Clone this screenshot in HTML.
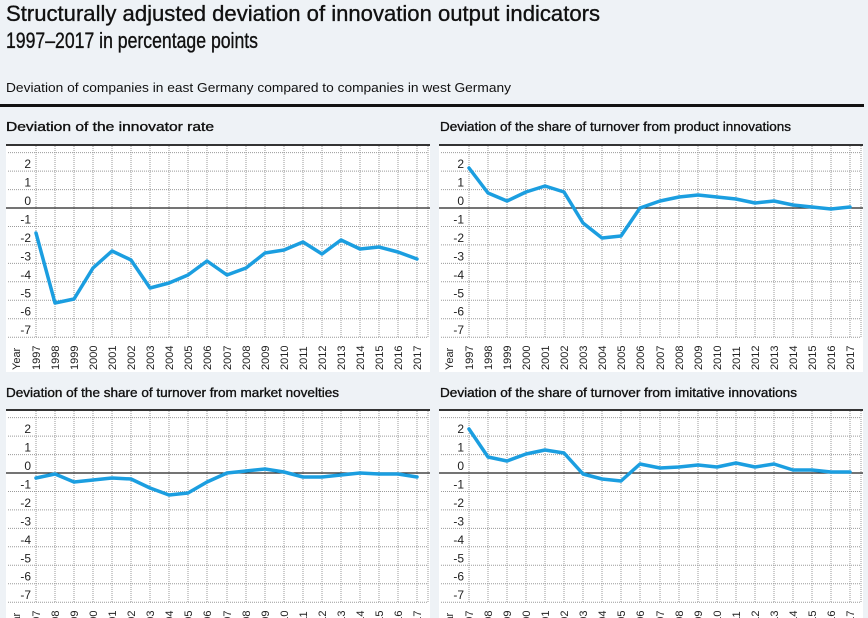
<!DOCTYPE html>
<html><head><meta charset="utf-8"><style>
html,body{margin:0;padding:0;background:#eef2f6;overflow:hidden;width:868px;height:618px;}
svg{display:block;font-family:"Liberation Sans Narrow","Liberation Sans",sans-serif;}
.t{fill:#111;}
.pt{fill:#111;stroke:#111;stroke-width:0.35;}
.yl{font-size:12px;fill:#222;text-anchor:end;}
.yr{font-size:11px;fill:#222;}
.g{stroke:#9a9a9a;stroke-width:1;stroke-dasharray:1 1;fill:none;}
.d{fill:none;stroke:#1b9ee0;stroke-width:3.5;stroke-linejoin:round;stroke-linecap:round;}
</style></head><body>
<svg width="868" height="618" viewBox="0 0 868 618" xmlns="http://www.w3.org/2000/svg">
<defs>
<g id="grid">
<rect x="6" y="145" width="424" height="227" fill="#fff"/>
<path class="g" d="M8 152.6H428M8 171.1H428M8 189.6H428M8 226.5H428M8 244.9H428M8 263.4H428M8 281.8H428M8 300.3H428M8 318.7H428M8 337.2H428"/>
<path class="g" d="M36 146V338M55 146V338M74 146V338M93 146V338M112 146V338M131 146V338M150 146V338M169 146V338M188 146V338M207 146V338M227 146V338M246 146V338M265 146V338M284 146V338M303 146V338M322 146V338M341 146V338M360 146V338M379 146V338M398 146V338M417 146V338M428 146V338"/>
<line x1="6" y1="145" x2="430" y2="145" stroke="#333" stroke-width="2"/>
<line x1="6" y1="208" x2="430" y2="208" stroke="#222" stroke-width="1.3"/>
</g>
</defs>

<text class="pt" x="6" y="21" font-size="22" textLength="594" lengthAdjust="spacingAndGlyphs">Structurally adjusted deviation of innovation output indicators</text>
<text class="pt" x="6" y="48" font-size="22" textLength="252" lengthAdjust="spacingAndGlyphs">1997–2017 in percentage points</text>
<text class="t" x="6" y="92" font-size="13" textLength="505" lengthAdjust="spacingAndGlyphs">Deviation of companies in east Germany compared to companies in west Germany</text>
<rect x="0" y="104" width="864" height="3" fill="#111"/>

<text class="pt" x="6" y="131" font-size="13" textLength="208" lengthAdjust="spacingAndGlyphs">Deviation of the innovator rate</text>
<text class="pt" x="440" y="131" font-size="13" textLength="351" lengthAdjust="spacingAndGlyphs">Deviation of the share of turnover from product innovations</text>
<text class="pt" x="6" y="397" font-size="13" textLength="333" lengthAdjust="spacingAndGlyphs">Deviation of the share of turnover from market novelties</text>
<text class="pt" x="440" y="397" font-size="13" textLength="357" lengthAdjust="spacingAndGlyphs">Deviation of the share of turnover from imitative innovations</text>

<use href="#grid"/>
<use href="#grid" transform="translate(433,0)"/>
<use href="#grid" transform="translate(0,265)"/>
<use href="#grid" transform="translate(433,265)"/>

<!-- Panel TL -->
<g>
<text class="yl" x="31" y="168">2</text><text class="yl" x="31" y="186.6">1</text><text class="yl" x="31" y="205">0</text>
<text class="yl" x="31" y="223.5">-1</text><text class="yl" x="31" y="242">-2</text><text class="yl" x="31" y="260.4">-3</text>
<text class="yl" x="31" y="278.8">-4</text><text class="yl" x="31" y="297.3">-5</text><text class="yl" x="31" y="315.7">-6</text><text class="yl" x="31" y="334.2">-7</text>
<text class="yr" transform="translate(20,370) rotate(-90)">Year</text>
<text class="yr" transform="translate(40,370) rotate(-90)">1997</text><text class="yr" transform="translate(59,370) rotate(-90)">1998</text><text class="yr" transform="translate(78,370) rotate(-90)">1999</text><text class="yr" transform="translate(97,370) rotate(-90)">2000</text><text class="yr" transform="translate(116,370) rotate(-90)">2001</text><text class="yr" transform="translate(135,370) rotate(-90)">2002</text><text class="yr" transform="translate(154,370) rotate(-90)">2003</text><text class="yr" transform="translate(173,370) rotate(-90)">2004</text><text class="yr" transform="translate(192,370) rotate(-90)">2005</text><text class="yr" transform="translate(211,370) rotate(-90)">2006</text><text class="yr" transform="translate(231,370) rotate(-90)">2007</text><text class="yr" transform="translate(250,370) rotate(-90)">2008</text><text class="yr" transform="translate(269,370) rotate(-90)">2009</text><text class="yr" transform="translate(288,370) rotate(-90)">2010</text><text class="yr" transform="translate(307,370) rotate(-90)">2011</text><text class="yr" transform="translate(326,370) rotate(-90)">2012</text><text class="yr" transform="translate(345,370) rotate(-90)">2013</text><text class="yr" transform="translate(364,370) rotate(-90)">2014</text><text class="yr" transform="translate(383,370) rotate(-90)">2015</text><text class="yr" transform="translate(402,370) rotate(-90)">2016</text><text class="yr" transform="translate(421,370) rotate(-90)">2017</text>
<polyline class="d" points="36,233 55,303 74,299 93,268 112,251 131,260 150,288 169,283 188,275 207,261 227,275 246,268 265,253 284,250 303,242 322,254 341,240 360,249 379,247 398,252 417,259"/>
</g>

<!-- Panel TR -->
<g transform="translate(433,0)">
<text class="yl" x="31" y="168">2</text><text class="yl" x="31" y="186.6">1</text><text class="yl" x="31" y="205">0</text>
<text class="yl" x="31" y="223.5">-1</text><text class="yl" x="31" y="242">-2</text><text class="yl" x="31" y="260.4">-3</text>
<text class="yl" x="31" y="278.8">-4</text><text class="yl" x="31" y="297.3">-5</text><text class="yl" x="31" y="315.7">-6</text><text class="yl" x="31" y="334.2">-7</text>
<text class="yr" transform="translate(20,370) rotate(-90)">Year</text>
<text class="yr" transform="translate(40,370) rotate(-90)">1997</text><text class="yr" transform="translate(59,370) rotate(-90)">1998</text><text class="yr" transform="translate(78,370) rotate(-90)">1999</text><text class="yr" transform="translate(97,370) rotate(-90)">2000</text><text class="yr" transform="translate(116,370) rotate(-90)">2001</text><text class="yr" transform="translate(135,370) rotate(-90)">2002</text><text class="yr" transform="translate(154,370) rotate(-90)">2003</text><text class="yr" transform="translate(173,370) rotate(-90)">2004</text><text class="yr" transform="translate(192,370) rotate(-90)">2005</text><text class="yr" transform="translate(211,370) rotate(-90)">2006</text><text class="yr" transform="translate(231,370) rotate(-90)">2007</text><text class="yr" transform="translate(250,370) rotate(-90)">2008</text><text class="yr" transform="translate(269,370) rotate(-90)">2009</text><text class="yr" transform="translate(288,370) rotate(-90)">2010</text><text class="yr" transform="translate(307,370) rotate(-90)">2011</text><text class="yr" transform="translate(326,370) rotate(-90)">2012</text><text class="yr" transform="translate(345,370) rotate(-90)">2013</text><text class="yr" transform="translate(364,370) rotate(-90)">2014</text><text class="yr" transform="translate(383,370) rotate(-90)">2015</text><text class="yr" transform="translate(402,370) rotate(-90)">2016</text><text class="yr" transform="translate(421,370) rotate(-90)">2017</text>
<polyline class="d" points="36,168 55,193 74,201 93,192 112,186 131,192 150,223 169,238 188,236 207,208 227,201 246,197 265,195 284,197 303,199 322,203 341,201 360,205 379,207 398,209 417,207"/>
</g>

<!-- Panel BL -->
<g transform="translate(0,265)">
<text class="yl" x="31" y="168">2</text><text class="yl" x="31" y="186.6">1</text><text class="yl" x="31" y="205">0</text>
<text class="yl" x="31" y="223.5">-1</text><text class="yl" x="31" y="242">-2</text><text class="yl" x="31" y="260.4">-3</text>
<text class="yl" x="31" y="278.8">-4</text><text class="yl" x="31" y="297.3">-5</text><text class="yl" x="31" y="315.7">-6</text><text class="yl" x="31" y="334.2">-7</text>
<text class="yr" transform="translate(20,370) rotate(-90)">Year</text>
<text class="yr" transform="translate(40,370) rotate(-90)">1997</text><text class="yr" transform="translate(59,370) rotate(-90)">1998</text><text class="yr" transform="translate(78,370) rotate(-90)">1999</text><text class="yr" transform="translate(97,370) rotate(-90)">2000</text><text class="yr" transform="translate(116,370) rotate(-90)">2001</text><text class="yr" transform="translate(135,370) rotate(-90)">2002</text><text class="yr" transform="translate(154,370) rotate(-90)">2003</text><text class="yr" transform="translate(173,370) rotate(-90)">2004</text><text class="yr" transform="translate(192,370) rotate(-90)">2005</text><text class="yr" transform="translate(211,370) rotate(-90)">2006</text><text class="yr" transform="translate(231,370) rotate(-90)">2007</text><text class="yr" transform="translate(250,370) rotate(-90)">2008</text><text class="yr" transform="translate(269,370) rotate(-90)">2009</text><text class="yr" transform="translate(288,370) rotate(-90)">2010</text><text class="yr" transform="translate(307,370) rotate(-90)">2011</text><text class="yr" transform="translate(326,370) rotate(-90)">2012</text><text class="yr" transform="translate(345,370) rotate(-90)">2013</text><text class="yr" transform="translate(364,370) rotate(-90)">2014</text><text class="yr" transform="translate(383,370) rotate(-90)">2015</text><text class="yr" transform="translate(402,370) rotate(-90)">2016</text><text class="yr" transform="translate(421,370) rotate(-90)">2017</text>
<polyline class="d" points="36,213 55,209 74,217 93,215 112,213 131,214 150,223 169,230 188,228 207,217 227,208 246,206 265,204 284,207 303,212 322,212 341,210 360,208 379,209 398,209 417,212"/>
</g>

<!-- Panel BR -->
<g transform="translate(433,265)">
<text class="yl" x="31" y="168">2</text><text class="yl" x="31" y="186.6">1</text><text class="yl" x="31" y="205">0</text>
<text class="yl" x="31" y="223.5">-1</text><text class="yl" x="31" y="242">-2</text><text class="yl" x="31" y="260.4">-3</text>
<text class="yl" x="31" y="278.8">-4</text><text class="yl" x="31" y="297.3">-5</text><text class="yl" x="31" y="315.7">-6</text><text class="yl" x="31" y="334.2">-7</text>
<text class="yr" transform="translate(20,370) rotate(-90)">Year</text>
<text class="yr" transform="translate(40,370) rotate(-90)">1997</text><text class="yr" transform="translate(59,370) rotate(-90)">1998</text><text class="yr" transform="translate(78,370) rotate(-90)">1999</text><text class="yr" transform="translate(97,370) rotate(-90)">2000</text><text class="yr" transform="translate(116,370) rotate(-90)">2001</text><text class="yr" transform="translate(135,370) rotate(-90)">2002</text><text class="yr" transform="translate(154,370) rotate(-90)">2003</text><text class="yr" transform="translate(173,370) rotate(-90)">2004</text><text class="yr" transform="translate(192,370) rotate(-90)">2005</text><text class="yr" transform="translate(211,370) rotate(-90)">2006</text><text class="yr" transform="translate(231,370) rotate(-90)">2007</text><text class="yr" transform="translate(250,370) rotate(-90)">2008</text><text class="yr" transform="translate(269,370) rotate(-90)">2009</text><text class="yr" transform="translate(288,370) rotate(-90)">2010</text><text class="yr" transform="translate(307,370) rotate(-90)">2011</text><text class="yr" transform="translate(326,370) rotate(-90)">2012</text><text class="yr" transform="translate(345,370) rotate(-90)">2013</text><text class="yr" transform="translate(364,370) rotate(-90)">2014</text><text class="yr" transform="translate(383,370) rotate(-90)">2015</text><text class="yr" transform="translate(402,370) rotate(-90)">2016</text><text class="yr" transform="translate(421,370) rotate(-90)">2017</text>
<polyline class="d" points="36,164 55,192 74,196 93,189 112,185 131,188 150,209 169,214 188,216 207,199 227,203 246,202 265,200 284,202 303,198 322,202 341,199 360,205 379,205 398,207 417,207"/>
</g>
</svg>
</body></html>
